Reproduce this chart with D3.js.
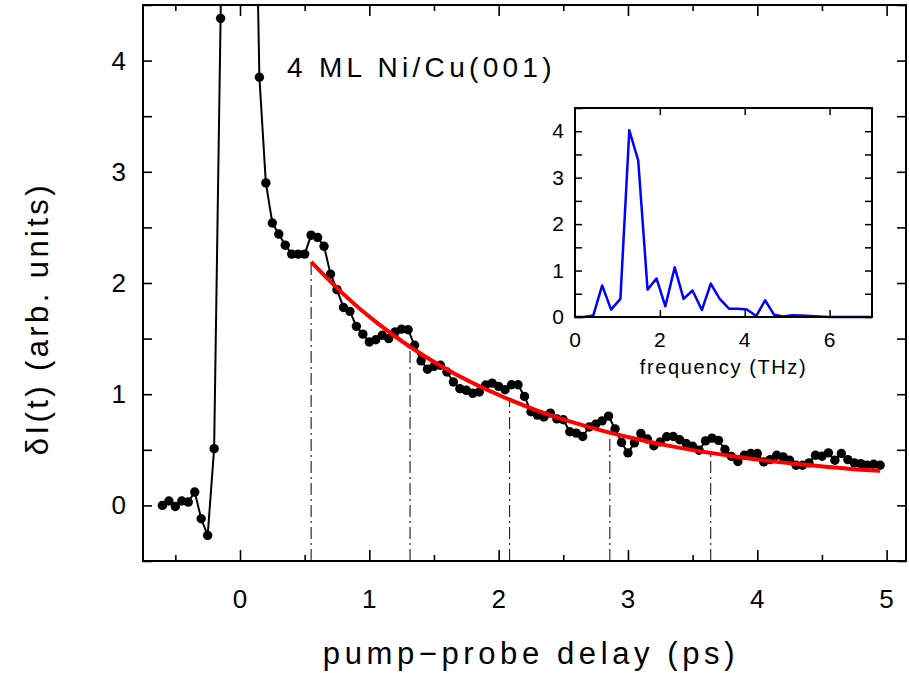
<!DOCTYPE html>
<html>
<head>
<meta charset="utf-8">
<script src="https://d3js.org/d3.v7.min.js"></script>
<style>
body { margin: 0; background: #fff; }
text { font-family: "Liberation Sans", Arial, sans-serif; fill: #000; }
</style>
</head>
<body>
<div id="chart"></div>
<script>
// measured trace : delay (ps) and dI(t)
var delay = [-0.60,-0.55,-0.50,-0.45,-0.40,-0.35,-0.30,-0.25,-0.20,-0.15,-0.10,-0.05,0.00,0.05,0.10,
  0.15,0.20,0.25,0.30,0.35,0.40,0.45,0.50,0.55,0.60,0.65,0.70,0.75,0.80,0.85,0.90,0.95,
  1.00,1.05,1.10,1.15,1.20,1.25,1.30,1.35,1.40,1.45,1.50,1.55,1.60,1.65,1.70,1.75,1.80,1.85,1.90,1.95,
  2.00,2.05,2.10,2.15,2.20,2.25,2.30,2.35,2.40,2.45,2.50,2.55,2.60,2.65,2.70,2.75,2.80,2.85,2.90,2.95,
  3.00,3.05,3.10,3.15,3.20,3.25,3.30,3.35,3.40,3.45,3.50,3.55,3.60,3.65,3.70,3.75,3.80,3.85,3.90,3.95,
  4.00,4.05,4.10,4.15,4.20,4.25,4.30,4.35,4.40,4.45,4.50,4.55,4.60,4.65,4.70,4.75,4.80,4.85,4.90,4.95];
var signal = [0.00,0.04,-0.01,0.04,0.03,0.12,-0.12,-0.27,0.51,4.38,9.0,13.0,14.0,11.0,7.0,
  3.85,2.90,2.54,2.44,2.34,2.26,2.26,2.26,2.43,2.41,2.33,2.08,1.94,1.78,1.745,1.61,1.54,
  1.47,1.49,1.53,1.50,1.56,1.585,1.58,1.44,1.30,1.225,1.25,1.26,1.20,1.11,1.05,1.035,1.008,1.02,1.083,1.10,
  1.07,1.04,1.085,1.085,0.98,0.842,0.812,0.795,0.83,0.778,0.77,0.662,0.65,0.62,0.705,0.73,0.76,0.803,0.688,0.566,
  0.472,0.562,0.647,0.597,0.537,0.571,0.617,0.62,0.59,0.557,0.532,0.496,0.58,0.605,0.585,0.503,0.44,0.395,0.451,0.467,
  0.467,0.391,0.412,0.451,0.436,0.406,0.361,0.361,0.382,0.451,0.442,0.472,0.406,0.467,0.412,0.382,0.376,0.361,0.37,0.361];

// red fit curve
var fitT = [0.55,0.80,1.05,1.30,1.55,1.80,2.05,2.30,2.55,2.80,3.05,3.30,3.55,3.80,4.05,4.30,4.55,4.80,4.95];
var fitV = [2.19,1.90,1.65,1.438,1.256,1.10,0.968,0.853,0.756,0.673,0.601,0.540,0.488,0.444,0.405,0.373,0.345,0.321,0.312];

// dash-dot markers (oscillation period)
var markT = [0.55,1.315,2.085,2.86,3.64];
var markV = [2.19,1.44,0.95,0.655,0.47];

// inset : fourier spectrum
var freq = [0,0.21,0.43,0.64,0.85,1.07,1.28,1.49,1.71,1.92,2.13,2.35,2.56,2.77,2.99,3.20,3.41,3.63,3.84,4.05,
  4.27,4.48,4.69,4.91,5.12,5.33,5.55,5.76,5.97,6.19,6.40,6.61,6.83,7.0];
var amp = [0,0,0.03,0.68,0.16,0.39,4.02,3.37,0.59,0.83,0.23,1.07,0.39,0.57,0.15,0.72,0.39,0.18,0.18,0.16,
  0.02,0.36,0.05,0.01,0.04,0.03,0.02,0.01,0,0,0,0,0,0];

var xTicks = [0,1,2,3,4,5];
var yTicks = [0,1,2,3,4];
var insetXTicks = [0,2,4,6];
var insetYTicks = [0,1,2,3,4];

var W = 909, H = 673;
var margin = {top: 5, right: 3, bottom: 112, left: 143},
  width = W - margin.left - margin.right,
  height = H - margin.top - margin.bottom;

var svg = d3.select("#chart").append("svg")
  .attr("width", W).attr("height", H);

var g = svg.append("g")
  .attr("transform", "translate(" + margin.left + "," + margin.top + ")");

var x = d3.scaleLinear().domain([-0.75, 5.15]).range([0, width]);
var y = d3.scaleLinear().domain([-0.5, 4.5]).range([height, 0]);

svg.append("defs").append("clipPath").attr("id", "clip")
  .append("rect").attr("width", width).attr("height", height);

// ticks, all pointing inward, mirrored on opposite sides
var xMinor = d3.range(-0.5, 5.01, 0.5).filter(function(d){ return d % 1 != 0; });
var yAll = d3.range(-0.5, 4.51, 0.5);

g.append("g").attr("transform", "translate(0," + height + ")")
  .call(d3.axisBottom(x).tickValues(xTicks).tickSize(-11).tickFormat(""));
g.append("g").attr("transform", "translate(0," + height + ")")
  .call(d3.axisBottom(x).tickValues(xMinor).tickSize(-6).tickFormat(""));
g.append("g").call(d3.axisTop(x).tickValues(xTicks).tickSize(-11).tickFormat(""));
g.append("g").call(d3.axisTop(x).tickValues(xMinor).tickSize(-6).tickFormat(""));
g.append("g").call(d3.axisLeft(y).tickValues(yAll).tickSize(-9).tickFormat(""));
g.append("g").attr("transform", "translate(" + width + ",0)")
  .call(d3.axisRight(y).tickValues(yAll).tickSize(-9).tickFormat(""));
g.selectAll(".domain").remove();
g.selectAll(".tick line").attr("stroke", "#000").attr("stroke-width", 1.6);

// tick labels
g.selectAll(".xlab").data(xTicks).enter().append("text")
  .attr("x", function(d){ return x(d); })
  .attr("y", height + 47)
  .attr("text-anchor", "middle")
  .style("font-size", "26px")
  .text(function(d){ return d; });
g.selectAll(".ylab").data(yTicks).enter().append("text")
  .attr("x", -17)
  .attr("y", function(d){ return y(d) + 9; })
  .attr("text-anchor", "end")
  .style("font-size", "26px")
  .text(function(d){ return d; });

// axis titles
g.append("text")
  .attr("x", x(2.25)).attr("y", height + 103)
  .attr("text-anchor", "middle")
  .style("font-size", "31px").style("letter-spacing", "4.6px")
  .text("pump\u2212probe delay (ps)");
g.append("text")
  .attr("transform", "translate(-95," + y(1.68) + ") rotate(-90)")
  .attr("text-anchor", "middle")
  .style("font-size", "31px").style("letter-spacing", "3.4px")
  .text("\u03b4I(t) (arb. units)");

g.append("text")
  .attr("x", 144).attr("y", 72)
  .style("font-size", "28px").style("letter-spacing", "4.3px")
  .text("4 ML Ni/Cu(001)");

// dash-dot period markers
g.selectAll(".mark").data(markT).enter().append("line")
  .attr("x1", function(d){ return x(d); })
  .attr("x2", function(d){ return x(d); })
  .attr("y1", height)
  .attr("y2", function(d, i){ return y(markV[i]); })
  .attr("stroke", "#000").attr("stroke-width", 1)
  .attr("stroke-dasharray", "12,4,2,4");

var data = delay.map(function(d, i){ return {t: d, v: signal[i]}; });
var plot = g.append("g").attr("clip-path", "url(#clip)");

var line = d3.line()
  .x(function(d){ return x(d.t); })
  .y(function(d){ return y(d.v); });

plot.append("path")
  .datum(data)
  .attr("fill", "none")
  .attr("stroke", "#000")
  .attr("stroke-width", 2)
  .attr("stroke-linejoin", "round")
  .attr("d", line);

plot.selectAll("circle")
  .data(data.filter(function(d){ return d.v < 4.5; }))
  .enter()
  .append("circle")
  .attr("cx", function(d){ return x(d.t); })
  .attr("cy", function(d){ return y(d.v); })
  .attr("r", 4.7)
  .attr("fill", "#000");

// exponential fit
var fitLine = d3.line()
  .x(function(d, i){ return x(fitT[i]); })
  .y(function(d){ return y(d); })
  .curve(d3.curveNatural);
g.append("path")
  .datum(fitV)
  .attr("fill", "none")
  .attr("stroke", "#ff0000")
  .attr("stroke-width", 4)
  .attr("d", fitLine);

// frame
g.append("rect")
  .attr("width", width).attr("height", height)
  .attr("fill", "none").attr("stroke", "#000").attr("stroke-width", 2);

// ---- inset ----
var ix = d3.scaleLinear().domain([0, 7]).range([575, 872]);
var iy = d3.scaleLinear().domain([0, 4.5]).range([317, 108]);
var ins = svg.append("g");

ins.append("rect")
  .attr("x", 575).attr("y", 108).attr("width", 297).attr("height", 209)
  .attr("fill", "#fff");

var iyAll = d3.range(0, 4.51, 0.5);
ins.append("g").attr("transform", "translate(575,0)")
  .call(d3.axisLeft(iy).tickValues(iyAll).tickSize(-7).tickFormat(""));
ins.append("g").attr("transform", "translate(872,0)")
  .call(d3.axisRight(iy).tickValues(iyAll).tickSize(-7).tickFormat(""));
ins.append("g").attr("transform", "translate(0,317)")
  .call(d3.axisBottom(ix).tickValues([2,4,6]).tickSize(-7).tickFormat(""));
ins.append("g").attr("transform", "translate(0,108)")
  .call(d3.axisTop(ix).tickValues([2,4,6]).tickSize(-7).tickFormat(""));
ins.selectAll(".domain").remove();
ins.selectAll(".tick line").attr("stroke", "#000").attr("stroke-width", 1.5);

ins.selectAll(".ixlab").data(insetXTicks).enter().append("text")
  .attr("x", function(d){ return ix(d); })
  .attr("y", 347)
  .attr("text-anchor", "middle")
  .style("font-size", "21px")
  .text(function(d){ return d; });
ins.selectAll(".iylab").data(insetYTicks).enter().append("text")
  .attr("x", 564)
  .attr("y", function(d){ return iy(d) + 7; })
  .attr("text-anchor", "end")
  .style("font-size", "21px")
  .text(function(d){ return d; });
ins.append("text")
  .attr("x", ix(3.5)).attr("y", 374)
  .attr("text-anchor", "middle")
  .style("font-size", "20px").style("letter-spacing", "1.6px")
  .text("frequency (THz)");

var specLine = d3.line()
  .x(function(d, i){ return ix(freq[i]); })
  .y(function(d){ return iy(d); });
ins.append("path")
  .datum(amp)
  .attr("fill", "none")
  .attr("stroke", "#0000ff")
  .attr("stroke-width", 2.5)
  .attr("stroke-linejoin", "round")
  .attr("d", specLine);

ins.append("rect")
  .attr("x", 575).attr("y", 108).attr("width", 297).attr("height", 209)
  .attr("fill", "none").attr("stroke", "#000").attr("stroke-width", 2);
</script>
</body>
</html>
